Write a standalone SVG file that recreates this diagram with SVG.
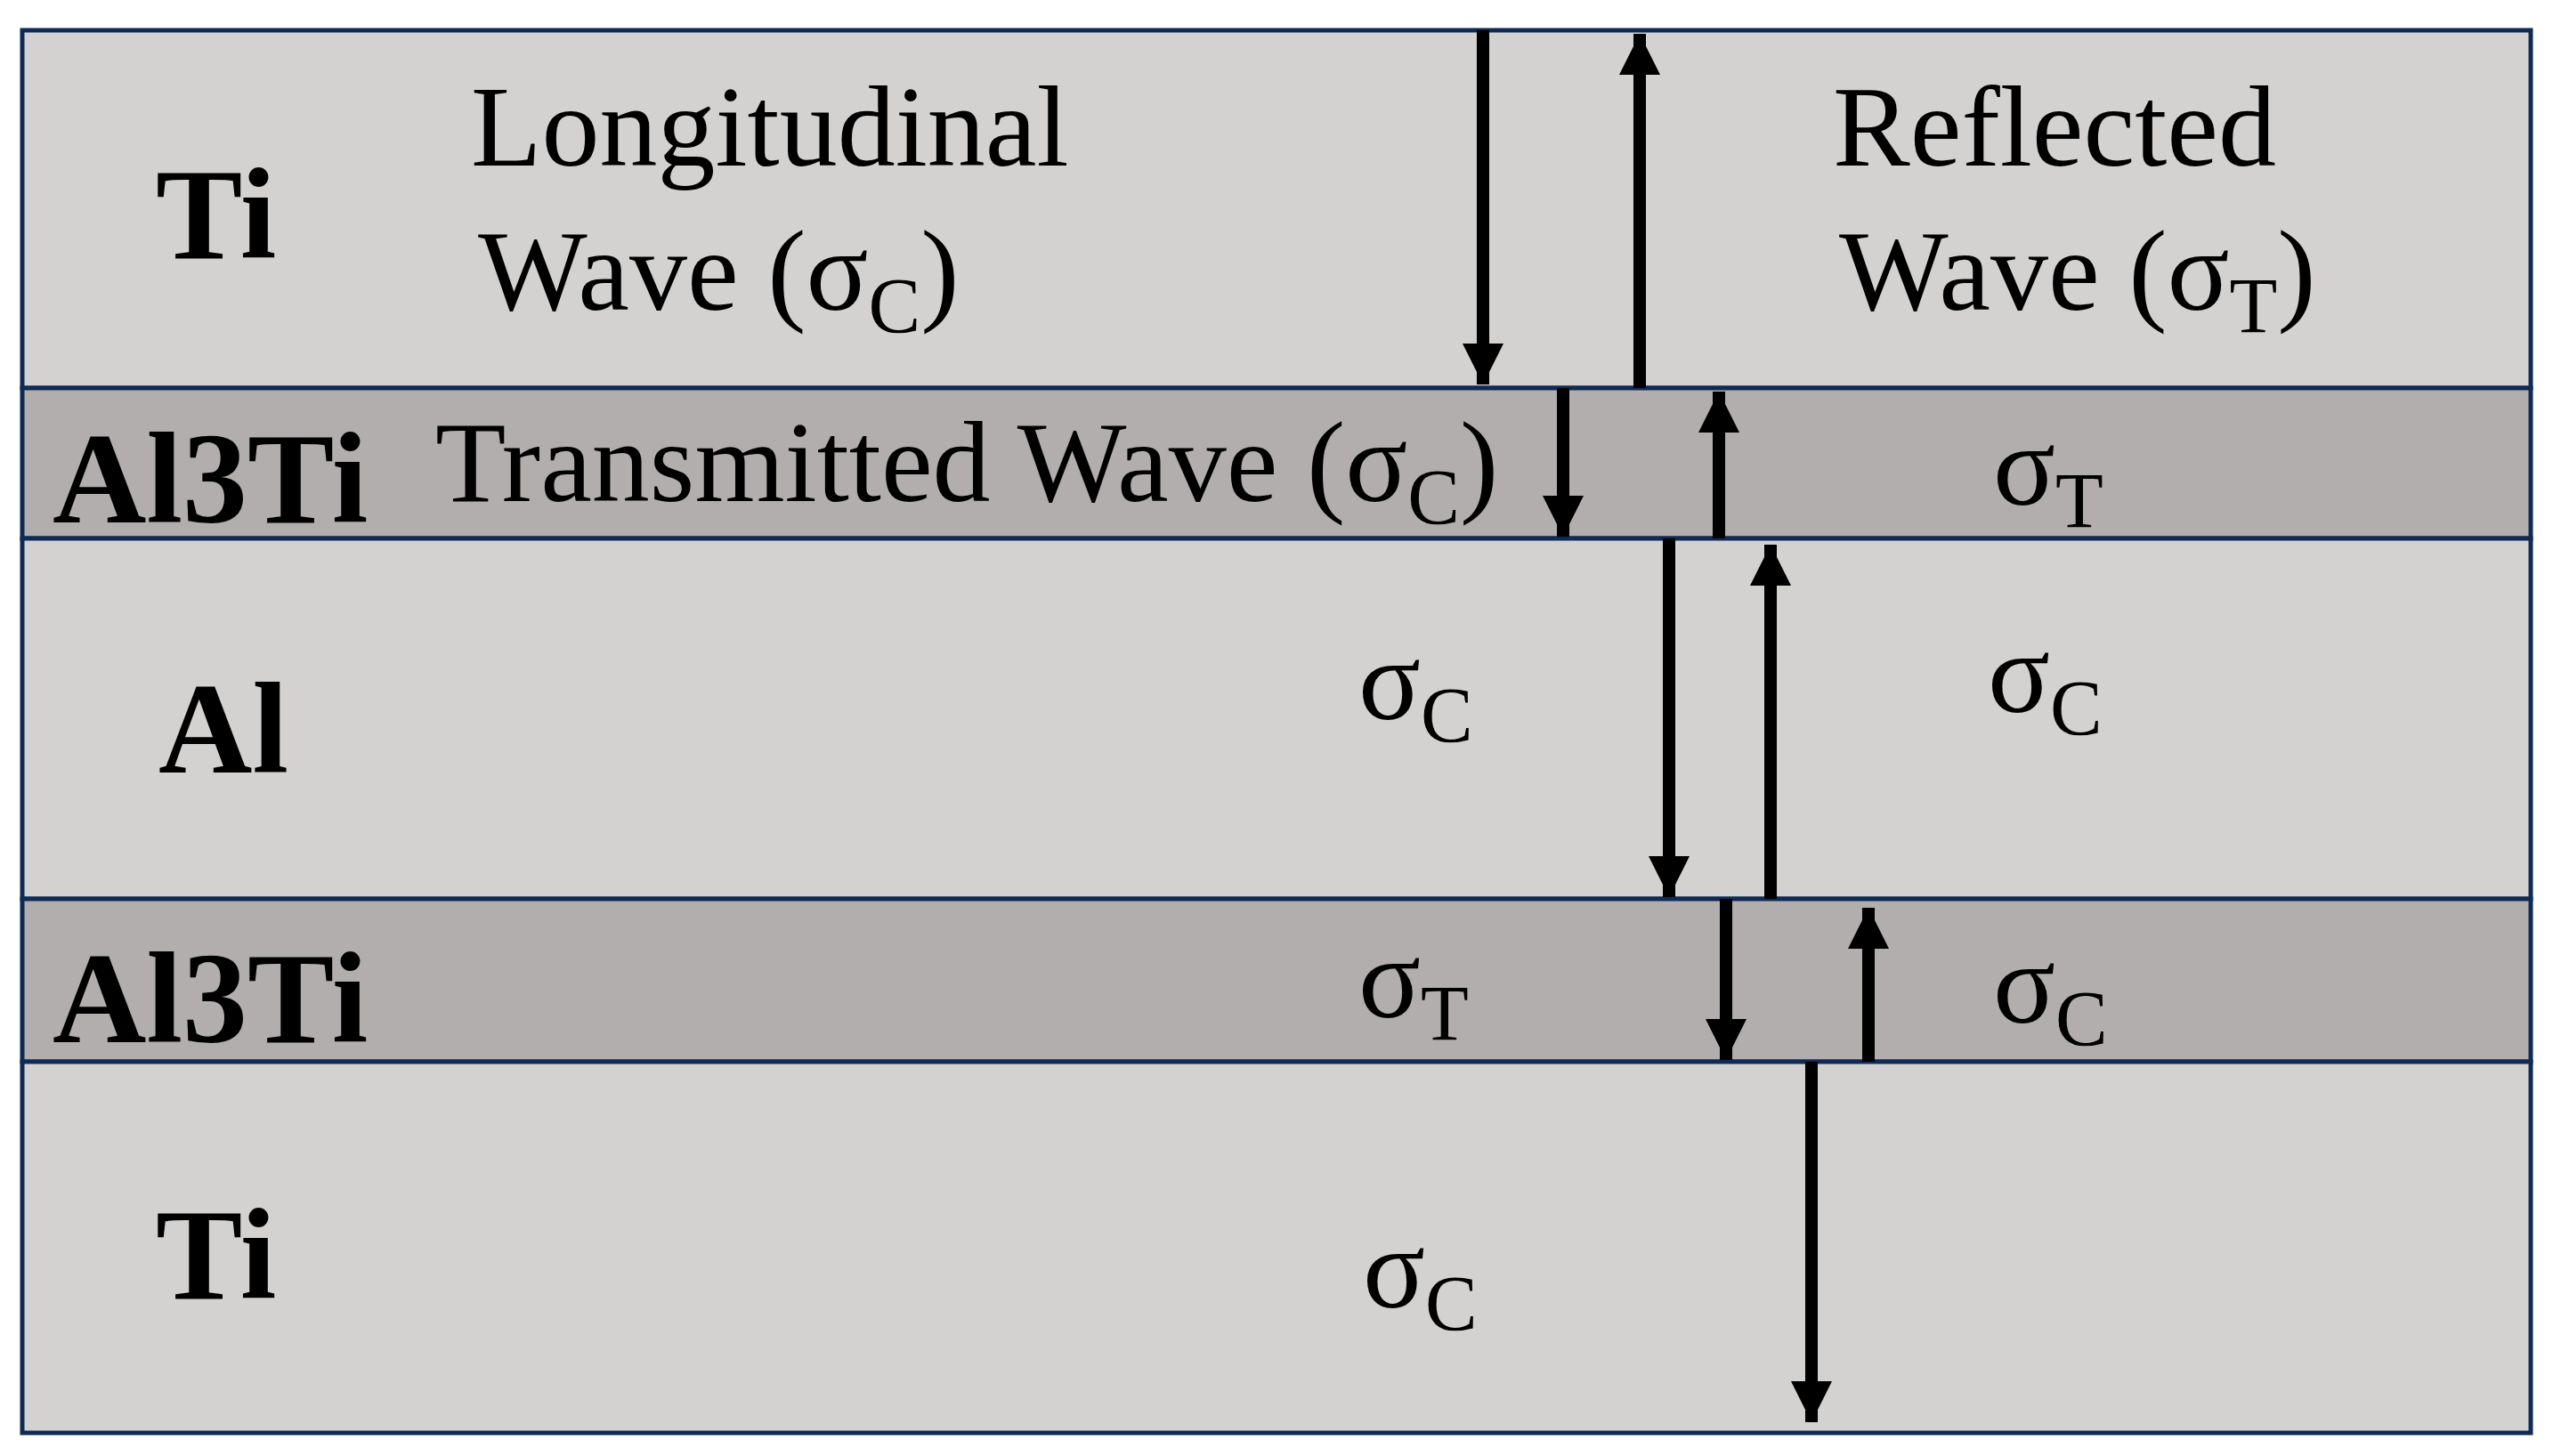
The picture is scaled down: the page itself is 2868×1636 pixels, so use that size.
<svg xmlns="http://www.w3.org/2000/svg" width="2868" height="1636" viewBox="0 0 2868 1636">
<style>
.l{fill:#d3d2d1;stroke:#0f2a55;stroke-width:5}
.d{fill:#b1aead;stroke:#0f2a55;stroke-width:5}
.b{font-family:"Liberation Serif",serif;font-weight:bold;font-size:146px;fill:#000}
.t{font-family:"Liberation Serif",serif;font-size:130px;fill:#000}
.s{font-size:88px}
.a{stroke:#000;stroke-width:14;fill:none;marker-end:url(#h)}
</style>
<defs><marker id="h" viewBox="0 0 10 10" refX="10" refY="5" markerWidth="46" markerHeight="50" markerUnits="userSpaceOnUse" orient="auto"><path d="M0,0 L10,5 L0,10 z" fill="#000"/></marker></defs>
<rect width="2868" height="1636" fill="#fff"/>
<g id="ti-top"><rect class="l" x="25" y="34" width="2818" height="402"/>
<text class="b" x="175" y="290">Ti</text>
<text class="t" x="529" y="186">Longitudinal</text>
<text class="t" x="537" y="348">Wave (σ<tspan class="s" dy="25">C</tspan><tspan dy="-25">)</tspan></text>
<text class="t" x="2059" y="186">Reflected</text>
<text class="t" x="2066" y="348">Wave (σ<tspan class="s" dy="25">T</tspan><tspan dy="-25">)</tspan></text></g>
<g id="al3ti-1"><rect class="d" x="25" y="436" width="2818" height="169"/>
<text class="b" x="59" y="587">Al3Ti</text>
<text class="t" x="489" y="563">Transmitted Wave (σ<tspan class="s" dy="25">C</tspan><tspan dy="-25">)</tspan></text>
<text class="t" x="2239" y="567">σ<tspan class="s" dy="25">T</tspan></text></g>
<g id="al"><rect class="l" x="25" y="605" width="2818" height="405"/>
<text class="b" x="178" y="868">Al</text>
<text class="t" x="1526" y="808">σ<tspan class="s" dy="25">C</tspan></text>
<text class="t" x="2233" y="800">σ<tspan class="s" dy="25">C</tspan></text></g>
<g id="al3ti-2"><rect class="d" x="25" y="1010" width="2818" height="183"/>
<text class="b" x="59" y="1171">Al3Ti</text>
<text class="t" x="1526" y="1143">σ<tspan class="s" dy="25">T</tspan></text>
<text class="t" x="2239" y="1149">σ<tspan class="s" dy="25">C</tspan></text></g>
<g id="ti-bottom"><rect class="l" x="25" y="1193" width="2818" height="417"/>
<text class="b" x="175" y="1459">Ti</text>
<text class="t" x="1531" y="1469">σ<tspan class="s" dy="25">C</tspan></text></g>
<g id="connectors">
<line class="a" x1="1666" y1="34" x2="1666" y2="432"/>
<line class="a" x1="1842" y1="436" x2="1842" y2="38"/>
<line class="a" x1="1756" y1="436" x2="1756" y2="603"/>
<line class="a" x1="1931" y1="605" x2="1931" y2="440"/>
<line class="a" x1="1875" y1="605" x2="1875" y2="1008"/>
<line class="a" x1="1989" y1="1010" x2="1989" y2="612"/>
<line class="a" x1="1939" y1="1010" x2="1939" y2="1191"/>
<line class="a" x1="2099" y1="1193" x2="2099" y2="1020"/>
<line class="a" x1="2035" y1="1193" x2="2035" y2="1598"/>
</g>
</svg>
